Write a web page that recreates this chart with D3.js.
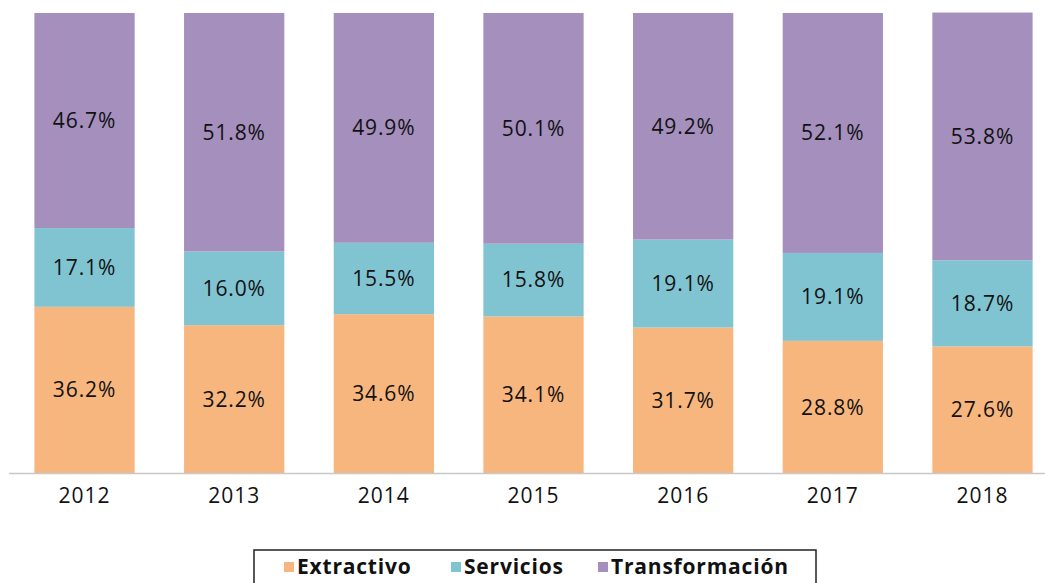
<!DOCTYPE html>
<html>
<head>
<meta charset="utf-8">
<script src="https://cdn.jsdelivr.net/npm/d3@7"></script>
<style>
  body { margin: 0; background: #fff; }
  text { font-family: "Open Sans", Lato, sans-serif; }
</style>
</head>
<body>
<div id="main_div"></div>
<script>
var years = ["2012", "2013", "2014", "2015", "2016", "2017", "2018"];
var extractivo = [36.2, 32.2, 34.6, 34.1, 31.7, 28.8, 27.6];
var servicios = [17.1, 16.0, 15.5, 15.8, 19.1, 19.1, 18.7];
var transformacion = [46.7, 51.8, 49.9, 50.1, 49.2, 52.1, 53.8];
var series_names = ["Extractivo", "Servicios", "Transformación"];
var colors = ["#F8B67F", "#80C4D2", "#A48FBD"];

var rows = years.map(function(y, i) {
    return {year: y, Extractivo: extractivo[i], Servicios: servicios[i], "Transformación": transformacion[i]};
});

var W = 1045, H = 583;
var svg = d3.select("#main_div").append("svg").attr("width", W).attr("height", H);

var x_scale = d3.scaleBand().domain(years).range([9.7, 1057.3]).paddingInner(0.33).paddingOuter(0.165);
var y_scale = d3.scaleLinear().domain([0, 100]).range([473.5, 13]);

var stack = d3.stack().keys(series_names);
var layers = stack(rows);

var g = svg.append("g");
layers.forEach(function(layer, k) {
    var lg = g.append("g").attr("fill", colors[k]);
    lg.selectAll("rect").data(layer).enter().append("rect")
        .attr("x", function(d) { return x_scale(d.data.year); })
        .attr("width", x_scale.bandwidth())
        .attr("y", function(d) { return y_scale(d[1]); })
        .attr("height", function(d) { return y_scale(d[0]) - y_scale(d[1]); });
    g.append("g").selectAll("text").data(layer).enter().append("text")
        .attr("x", function(d) { return x_scale(d.data.year) + x_scale.bandwidth() / 2; })
        .attr("y", function(d) { return (y_scale(d[0]) + y_scale(d[1])) / 2; })
        .attr("dy", "0.35em")
        .attr("text-anchor", "middle")
        .attr("font-size", 21)
        .attr("letter-spacing", 0.9)
        .attr("fill", "#111")
        .text(function(d) { return (d[1] - d[0]).toFixed(1) + "%"; });
});

// x axis
var g_x = svg.append("g").attr("transform", "translate(0," + y_scale(0) + ")")
    .call(d3.axisBottom(x_scale).tickSize(0).tickPadding(15));
g_x.select(".domain").attr("stroke", "#c8c8c8").attr("stroke-width", 1.5).attr("d", "M9,0H1045");
g_x.selectAll("text").attr("font-size", 21).attr("letter-spacing", 1).attr("fill", "#111")
    .style("font-family", "'Open Sans', sans-serif");

// legend
var legend = svg.append("g");
legend.append("rect").attr("x", 254).attr("y", 550).attr("width", 562).attr("height", 40)
    .attr("fill", "#fff").attr("stroke", "#222").attr("stroke-width", 1.5);
var leg_x = [284, 451, 598];
series_names.forEach(function(name, k) {
    legend.append("rect").attr("x", leg_x[k]).attr("y", 562).attr("width", 10).attr("height", 10).attr("fill", colors[k]);
    legend.append("text").attr("x", leg_x[k] + 13).attr("y", 567).attr("dy", "0.35em")
        .attr("font-size", 21).attr("font-weight", "bold").attr("letter-spacing", 0.8)
        .attr("fill", "#111").text(name);
});
</script>
</body>
</html>
